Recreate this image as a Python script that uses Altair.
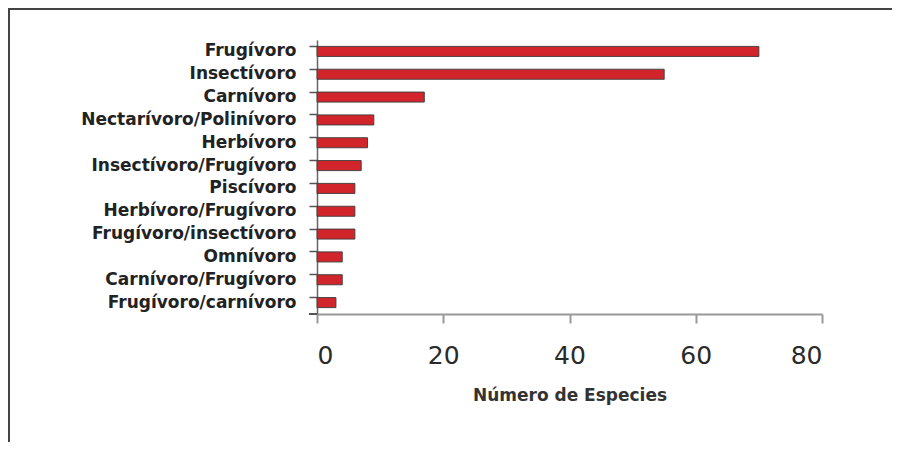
import altair as alt
import pandas as pd

categories = [
    "Frugívoro", "Insectívoro", "Carnívoro", "Nectarívoro/Polinívoro",
    "Herbívoro", "Insectívoro/Frugívoro", "Piscívoro", "Herbívoro/Frugívoro",
    "Frugívoro/insectívoro", "Omnívoro", "Carnívoro/Frugívoro", "Frugívoro/carnívoro",
]
values = [70, 55, 17, 9, 8, 7, 6, 6, 6, 4, 4, 3]
x_ticks = [0, 20, 40, 60, 80]

df = pd.DataFrame({"cat": categories, "n": values})

W, H = 505, 274

frame_top = alt.Chart(df).mark_rule(stroke="#444444", strokeWidth=2, strokeCap="butt").encode(
    x=alt.value(-309), x2=alt.value(W + 70), y=alt.value(-31)
)
frame_left = alt.Chart(df).mark_rule(stroke="#444444", strokeWidth=2, strokeCap="butt").encode(
    x=alt.value(-308), y=alt.value(-32), y2=alt.value(H + 128)
)

bars = alt.Chart(df).mark_bar(color="#d2252b", stroke="#3a3a3a", strokeWidth=0.9).encode(
    x=alt.X("n:Q", scale=alt.Scale(domain=[0, 80], nice=False),
            axis=alt.Axis(values=x_ticks, title="Número de Especies", grid=False,
                          domainColor="#999999", domainWidth=2, tickColor="#999999",
                          tickWidth=2, tickSize=9, labelFont="DejaVu Sans", labelFontSize=25,
                          labelColor="#2a2a2a", labelPadding=20, titleFont="DejaVu Sans",
                          titleFontSize=17, titleFontWeight="bold", titleColor="#333333",
                          titlePadding=19)),
    y=alt.Y("cat:N", sort=categories, scale=alt.Scale(paddingInner=0.56, paddingOuter=0.28),
            axis=alt.Axis(title=None, bandPosition=0, domainColor="#666666", domainWidth=1.5,
                          tickColor="#555555", tickWidth=1.5, tickSize=8,
                          labelFont="DejaVu Sans", labelFontSize=17, labelFontWeight="bold",
                          labelColor="#222222", labelPadding=13, labelLimit=0)),
)

bottom_tick = alt.Chart(df).mark_rule(color="#555555", strokeWidth=1.5).encode(
    x=alt.value(-8), x2=alt.value(0), y=alt.value(H)
)

chart = alt.layer(frame_top, frame_left, bars, bottom_tick).properties(
    width=W, height=H,
    autosize=alt.AutoSizeParams(type="none"),
    padding={"left": 309, "top": 32, "right": 74, "bottom": 128},
).configure(background="white", view=alt.ViewConfig(stroke=None))

chart.save("out.html", embed_options={"renderer": "svg", "actions": False})
